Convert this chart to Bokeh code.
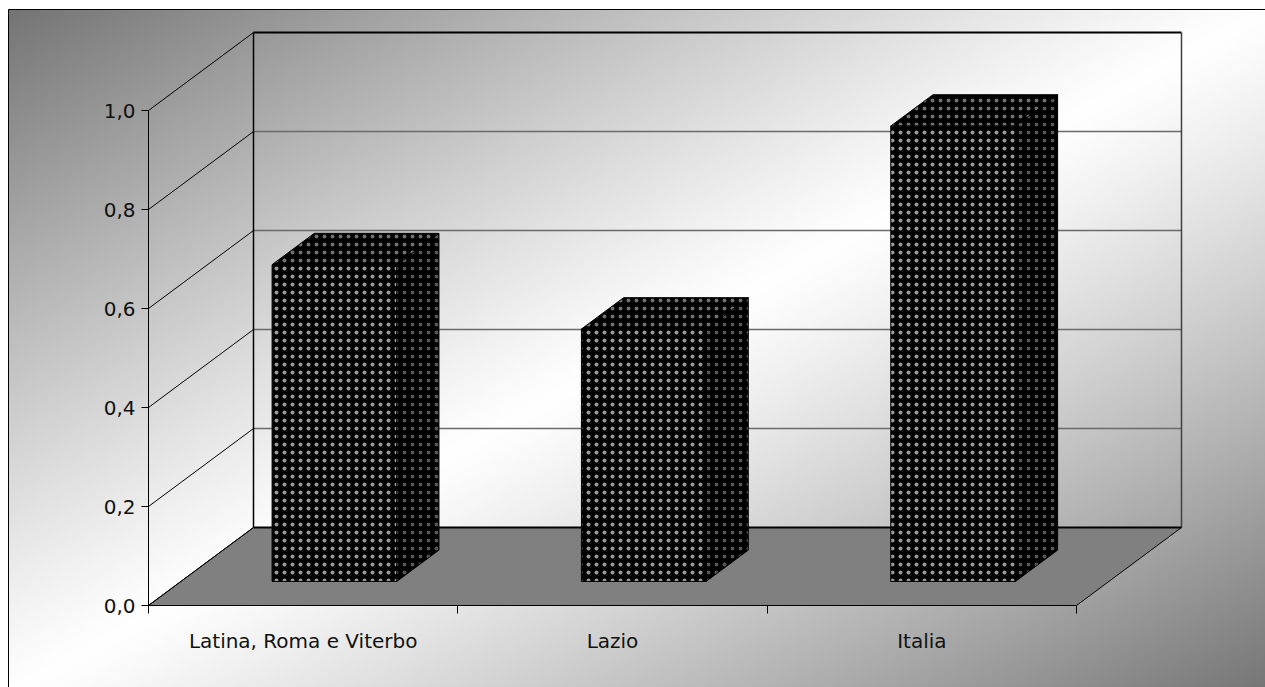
import numpy as np
from bokeh.plotting import figure
from bokeh.models import Range1d, LinearAxis, FixedTicker
from bokeh.embed import file_html
from bokeh.resources import INLINE

# ---- data ----
categories = ["Latina, Roma e Viterbo", "Lazio", "Italia"]
values = [0.64, 0.51, 0.92]
y_ticks = [0.0, 0.2, 0.4, 0.6, 0.8, 1.0]
y_tick_labels = ["0,0", "0,2", "0,4", "0,6", "0,8", "1,0"]

# ---- layout / projection constants ----
W, H = 1265, 687
PX_X0, PX_CAT = 148.0, 309.33     # front-plane origin and category width (px)
PX_Y0, PX_UNIT = 605.0, 495.0     # front-plane zero and pixels per 1.0
n = len(categories)

x_start = -PX_X0 / PX_CAT
x_end = (W - PX_X0) / PX_CAT
y_start = -(H - PX_Y0) / PX_UNIT
y_end = PX_Y0 / PX_UNIT

DX = 105.0 / PX_CAT    # depth offset in x units
DY = 78.0 / PX_UNIT    # depth offset in y units
D1, D2 = 0.308, 0.71   # bar front / back depth fractions
A, B = 0.295, 0.698    # bar left/right inside category

def px_x(px):
    return (px - PX_X0) / PX_CAT

def px_y(py):
    return (PX_Y0 - py) / PX_UNIT

p = figure(width=W, height=H, x_range=Range1d(x_start, x_end), y_range=Range1d(y_start, y_end),
           output_backend="svg", toolbar_location=None, min_border=0,
           x_axis_type=None, y_axis_type=None)
p.outline_line_color = None
p.background_fill_color = "white"
p.border_fill_color = "white"
p.xgrid.visible = False
p.ygrid.visible = False

# ---- gradient chart area ----
bx0, by0, bx1, by1 = 8, 9, 1270, 694
cols, rows = 422, 229
u = (np.arange(cols) + 0.5) / cols
v = (np.arange(rows) + 0.5) / rows
t = u[None, :] + (1.0 - v[:, None])
g = 255 - (255 - 116) * np.abs(t - 1.0) ** 1.15
g = np.clip(g, 0, 255).astype(np.uint32)
img = (np.uint32(255) << 24) | (g << 16) | (g << 8) | g
gx0, gx1 = px_x(bx0), px_x(bx1)
gy_top, gy_bot = px_y(by0), px_y(by1)
p.image_rgba(image=[img], x=gx0, y=gy_bot, dw=gx1 - gx0, dh=gy_top - gy_bot)
p.quad(left=gx0, right=gx1, top=gy_top, bottom=gy_bot, fill_color=None,
       line_color="black", line_width=1)

# ---- floor ----
p.patch([0, DX, n + DX, n], [0, DY, DY, 0], fill_color="#808080",
        line_color="black", line_width=1)

# ---- back wall gridlines ----
inner = y_ticks[1:-1]
p.segment(x0=[DX] * len(inner), y0=[yv + DY for yv in inner],
          x1=[n + DX] * len(inner), y1=[yv + DY for yv in inner],
          line_color="#6a6a6a", line_width=1.5)
# side wall diagonals
p.segment(x0=[0] * len(y_ticks), y0=y_ticks, x1=[DX] * len(y_ticks),
          y1=[yv + DY for yv in y_ticks], line_color="black", line_width=1)
# back wall edges
top = y_ticks[-1]
p.segment(x0=[DX], y0=[DY], x1=[DX], y1=[top + DY], line_color="black", line_width=1.5)
p.segment(x0=[DX], y0=[top + DY], x1=[n + DX], y1=[top + DY], line_color="black", line_width=2)
p.segment(x0=[n + DX], y0=[DY], x1=[n + DX], y1=[top + DY], line_color="#404040", line_width=1.5)
p.segment(x0=[DX], y0=[DY], x1=[n + DX], y1=[DY], line_color="black", line_width=2)

# ---- 3D bars ----
fx, fy, tx, ty, sx, sy = [], [], [], [], [], []
for i, h in enumerate(values):
    l1, r1 = i + A + D1 * DX, i + B + D1 * DX
    l2, r2 = i + A + D2 * DX, i + B + D2 * DX
    b1, b2 = D1 * DY, D2 * DY
    fx.append([l1, r1, r1, l1]); fy.append([b1, b1, h + b1, h + b1])
    tx.append([l1, r1, r2, l2]); ty.append([h + b1, h + b1, h + b2, h + b2])
    sx.append([r1, r2, r2, r1]); sy.append([b1, b2, h + b2, h + b1])

common = dict(fill_color="black", line_color="black", line_width=1,
              hatch_pattern="dot", hatch_scale=8, hatch_weight=1)
p.patches(sx, sy, hatch_color="#9a9a9a", hatch_alpha=0.55, **common)
p.patches(tx, ty, hatch_color="#bbbbbb", hatch_alpha=0.6, **common)
p.patches(fx, fy, hatch_color="#ffffff", hatch_alpha=0.6, **common)

# ---- axes ----
FONT = "DejaVu Sans"
yaxis = LinearAxis(fixed_location=0, bounds=(0, 1),
                   ticker=FixedTicker(ticks=y_ticks),
                   major_label_overrides=dict(zip(y_ticks, y_tick_labels)))
yaxis.axis_line_color = "black"
yaxis.axis_line_width = 1
yaxis.major_tick_in = 0
yaxis.major_tick_out = 7
yaxis.major_tick_line_color = "black"
yaxis.minor_tick_line_color = None
yaxis.major_label_standoff = 6
yaxis.major_label_text_font = FONT
yaxis.major_label_text_font_size = "20px"
yaxis.major_label_text_color = "#111111"
p.add_layout(yaxis, "left")

centers = [i + 0.5 for i in range(n)]
xaxis = LinearAxis(fixed_location=0, bounds=(0, n),
                   ticker=FixedTicker(ticks=centers, minor_ticks=list(range(n + 1))),
                   major_label_overrides=dict(zip(centers, categories)))
xaxis.axis_line_color = "black"
xaxis.axis_line_width = 1
xaxis.major_tick_in = 0
xaxis.major_tick_out = 0
xaxis.major_tick_line_color = None
xaxis.minor_tick_in = 0
xaxis.minor_tick_out = 8
xaxis.minor_tick_line_color = "black"
xaxis.major_label_standoff = 15
xaxis.major_label_text_font = FONT
xaxis.major_label_text_font_size = "20px"
xaxis.major_label_text_color = "#111111"
p.add_layout(xaxis, "below")

open("out.html", "w").write(file_html(p, INLINE))
